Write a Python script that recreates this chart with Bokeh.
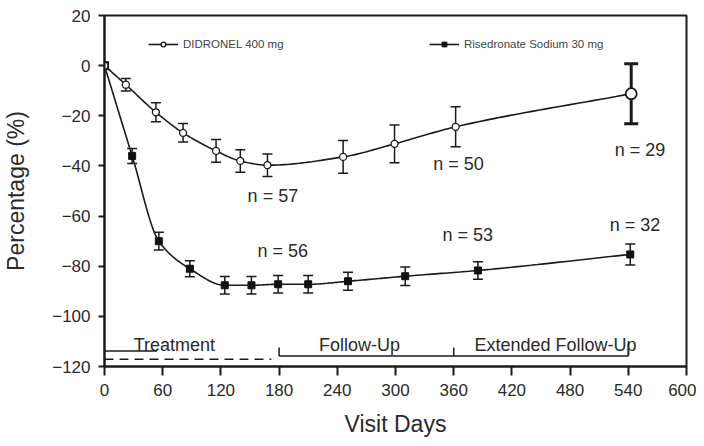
import numpy as np
from bokeh.plotting import figure
from bokeh.models import (ColumnDataSource, Whisker, Legend, LegendItem, FixedTicker,
                          Range1d)
from bokeh.core.properties import value
from bokeh.embed import file_html
from bokeh.resources import INLINE

# ---------------- data ----------------
did_days = [0, 22, 53, 81, 115, 140, 168, 246, 299, 362, 543]
did_pct = [0, -7.6, -18.6, -26.8, -34.0, -38.0, -39.7, -36.4, -31.2, -24.4, -11.2]
did_err = [0, 2.5, 3.8, 3.7, 4.5, 4.5, 4.5, 6.5, 7.5, 8.0, 12.0]

ris_days = [0, 28.5, 56, 88, 124, 151.5, 179, 210, 251, 310, 385, 542]
ris_pct = [0, -36.0, -70.0, -81.0, -87.6, -87.6, -87.2, -87.2, -86.0, -84.0, -81.7, -75.3]
ris_err = [0, 3.0, 3.5, 3.2, 3.5, 3.5, 3.5, 3.5, 3.6, 3.7, 3.5, 4.2]

n_text = ["n = 57", "n = 56", "n = 50", "n = 29", "n = 53", "n = 32"]
n_x = [173.6, 183.8, 365, 552, 374.6, 547]
n_y = [-52, -74, -39.4, -33.5, -67.7, -63.7]

phase_names = ["Treatment", "Follow-Up", "Extended Follow-Up"]
phase_label_x = [72, 263, 465]
phase_bounds = [0, 180, 360, 540]

x_ticks = [0, 60, 120, 180, 240, 300, 360, 420, 480, 540, 600]
y_ticks = [20, 0, -20, -40, -60, -80, -100, -120]

FONT = "Liberation Sans"
TXT = "#2a2a2a"
INK = "#1a1a1a"


def smooth_curve(xk, yk, per_seg=24):
    """Monotone cubic (PCHIP) rendering of the line through the read points."""
    x = np.asarray(xk, float)
    y = np.asarray(yk, float)
    h = np.diff(x)
    d = np.diff(y) / h
    n = len(x)
    m = np.zeros(n)
    for k in range(1, n - 1):
        if d[k - 1] * d[k] > 0:
            w1 = 2 * h[k] + h[k - 1]
            w2 = h[k] + 2 * h[k - 1]
            m[k] = (w1 + w2) / (w1 / d[k - 1] + w2 / d[k])
    m[0] = d[0]
    m[-1] = d[-1]
    xs, ys = [], []
    for k in range(n - 1):
        t = np.linspace(0, 1, per_seg, endpoint=(k == n - 2))
        h00 = 2 * t**3 - 3 * t**2 + 1
        h10 = t**3 - 2 * t**2 + t
        h01 = -2 * t**3 + 3 * t**2
        h11 = t**3 - t**2
        xs.extend(x[k] + t * h[k])
        ys.extend(h00 * y[k] + h10 * h[k] * m[k] + h01 * y[k + 1] + h11 * h[k] * m[k + 1])
    return xs, ys


p = figure(frame_width=582, frame_height=351,
           min_border_left=96, min_border_right=10, min_border_top=15, min_border_bottom=64,
           x_range=Range1d(0, 600), y_range=Range1d(-120, 20),
           output_backend="svg", toolbar_location=None)
p.grid.visible = False
p.outline_line_color = INK
p.outline_line_width = 2
p.background_fill_color = "white"
p.border_fill_color = "white"

# axes
p.xaxis.ticker = FixedTicker(ticks=x_ticks)
p.yaxis.ticker = FixedTicker(ticks=y_ticks)
for ax in (p.xaxis, p.yaxis):
    ax.axis_line_width = 2
    ax.axis_line_color = INK
    ax.major_tick_line_width = 2
    ax.major_tick_line_color = INK
    ax.minor_tick_line_color = None
    ax.major_tick_in = 0
    ax.major_label_text_font = FONT
    ax.major_label_text_font_size = "17px"
    ax.major_label_text_color = TXT
    ax.axis_label_text_font = FONT
    ax.axis_label_text_font_style = "normal"
    ax.axis_label_text_color = TXT
    ax.axis_label_text_font_size = "23px"
p.xaxis.major_tick_out = 9
p.xaxis.major_label_standoff = 8
p.xaxis.axis_label = "Visit Days"
p.xaxis.axis_label_standoff = 12
p.yaxis.major_tick_out = 6
p.yaxis.major_label_standoff = 8
p.yaxis.axis_label = "Percentage (%)"
p.yaxis.axis_label_standoff = 20

# sources
did_src = ColumnDataSource(dict(x=did_days, y=did_pct,
                                lo=[a - b for a, b in zip(did_pct, did_err)],
                                hi=[a + b for a, b in zip(did_pct, did_err)]))
ris_src = ColumnDataSource(dict(x=ris_days, y=ris_pct,
                                lo=[a - b for a, b in zip(ris_pct, ris_err)],
                                hi=[a + b for a, b in zip(ris_pct, ris_err)]))
did_main = ColumnDataSource({k: v[1:-1] for k, v in did_src.data.items()})
did_last = ColumnDataSource({k: v[-1:] for k, v in did_src.data.items()})
did_first = ColumnDataSource({k: v[:1] for k, v in did_src.data.items()})
ris_rest = ColumnDataSource({k: v[1:] for k, v in ris_src.data.items()})
ris_first = ColumnDataSource({k: v[:1] for k, v in ris_src.data.items()})

# curves
dcx, dcy = smooth_curve(did_days, did_pct)
rcx, rcy = smooth_curve(ris_days, ris_pct)
did_line = p.line(dcx, dcy, line_color=INK, line_width=1.6)
ris_line = p.line(rcx, rcy, line_color=INK, line_width=1.6)

# error bars
for src, lw, cap in ((did_main, 1.5, 10), (ris_rest, 1.5, 10), (did_last, 3, 14)):
    w = Whisker(source=src, base="x", upper="hi", lower="lo",
                line_color=INK, line_width=lw)
    for head in (w.upper_head, w.lower_head):
        head.size = cap
        head.line_width = lw
        head.line_color = INK
    p.add_layout(w)

# markers
ris_pts = p.scatter("x", "y", source=ris_rest, marker="square", size=7,
                    fill_color="#111111", line_color="#111111")
p.scatter("x", "y", source=ris_first, marker="square", size=8,
          fill_color="#111111", line_color="#111111")
did_pts = p.scatter("x", "y", source=did_main, marker="circle", size=7,
                    fill_color="white", line_color=INK, line_width=1.3)
p.scatter("x", "y", source=did_first, marker="circle", size=7,
          fill_color="white", line_color=INK, line_width=1.3)
p.scatter("x", "y", source=did_last, marker="circle", size=11,
          fill_color="white", line_color=INK, line_width=1.8)

# n labels
p.text(x=n_x, y=n_y, text=n_text, text_font=value(FONT), text_font_size="18px",
       text_color=TXT, text_align="center", text_baseline="middle")

# phase brackets
p.segment(x0=[phase_bounds[0]], y0=[-113.8], x1=[54], y1=[-113.8],
          line_color=INK, line_width=1.5)
p.segment(x0=[phase_bounds[0]], y0=[-117.1], x1=[phase_bounds[1] - 8], y1=[-117.1],
          line_color=INK, line_width=1.5, line_dash="9 6")
p.segment(x0=[phase_bounds[1]], y0=[-115.8], x1=[phase_bounds[3]], y1=[-115.8],
          line_color=INK, line_width=1.5)
p.segment(x0=phase_bounds[1:], y0=[-115.8] * 3, x1=phase_bounds[1:], y1=[-112.4, -112.4, -110.8],
          line_color=INK, line_width=1.5)
p.text(x=phase_label_x, y=[-111.3] * 3, text=phase_names, text_font=value(FONT),
       text_font_size="18px", text_color=TXT, text_align="center", text_baseline="alphabetic")

# legends
for label, rends, loc in (("DIDRONEL 400 mg", [did_line, did_pts], (44, 316)),
                          ("Risedronate Sodium 30 mg", [ris_line, ris_pts], (325, 316))):
    leg = Legend(items=[LegendItem(label=label, renderers=rends)], location=loc,
                 border_line_color=None, background_fill_alpha=0, padding=0, margin=0,
                 glyph_width=30, glyph_height=12, label_standoff=5, label_height=12,
                 label_text_font=FONT, label_text_font_size="11.5px",
                 label_text_color="#444444", spacing=0)
    p.add_layout(leg)

open("out.html", "w").write(file_html(p, INLINE))
